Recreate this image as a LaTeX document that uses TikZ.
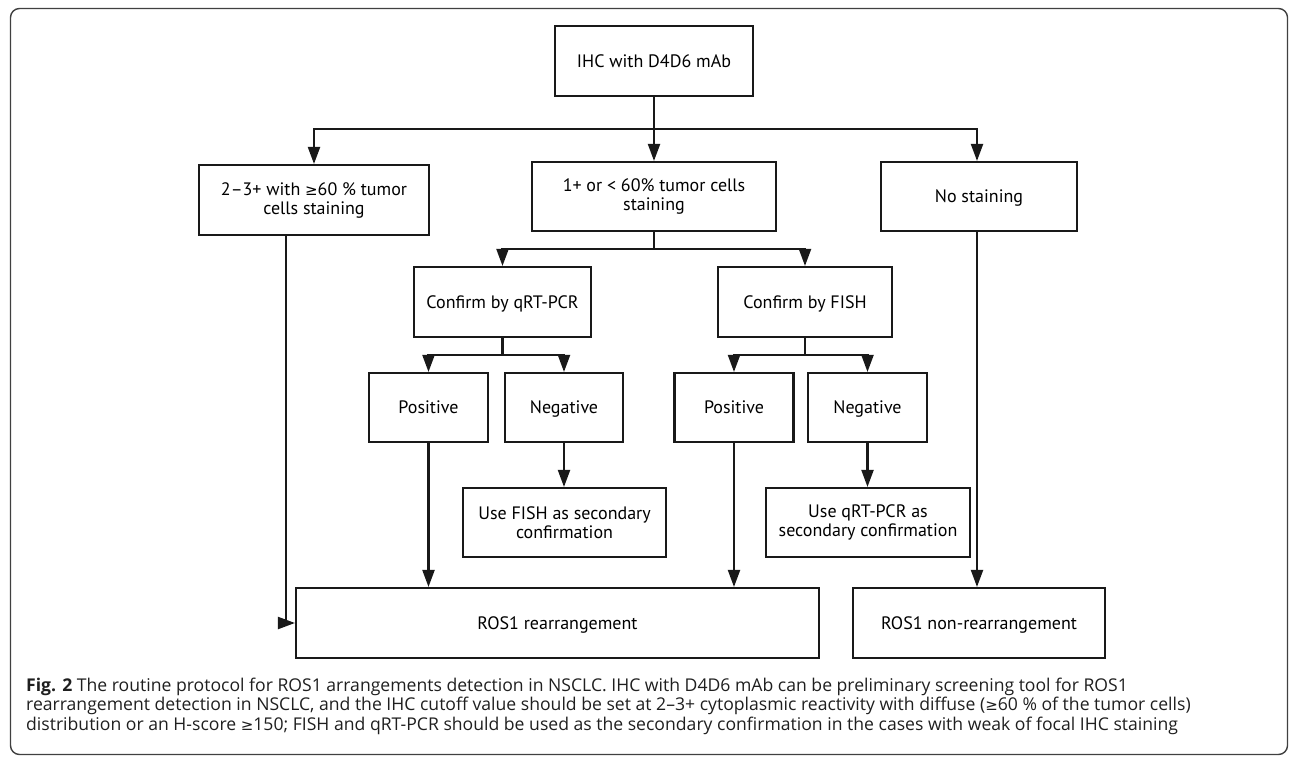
\documentclass[tikz,border=0pt]{standalone}
\usepackage{fontspec}
\setmainfont{PT Sans}
\newfontfamily\capfont{Open Sans}
\newfontfamily\symfont{DejaVu Sans}
\usetikzlibrary{arrows.meta,calc}
\begin{document}
\begin{tikzpicture}[x=1pt,y=-1pt,
 box/.style={draw=black!90,line width=2.1pt,align=center,inner sep=0pt,font=\fontsize{18}{19}\selectfont},
 one/.style={text height=12.6pt,text depth=0pt},
 arr/.style={draw=black!90,line width=2.1pt,-{Triangle[length=17pt,width=12pt]}},
 ln/.style={draw=black!90,line width=2.1pt},
 captext/.style={anchor=base west,inner sep=0pt,text=black!88,font=\capfont\fontsize{17.6}{18}\selectfont}]
\useasboundingbox (0,0) rectangle (1290,757);
\draw[draw=black!75,line width=1.4pt,rounded corners=9pt] (10.5,8.5) rectangle (1287.5,754.5);

\node[box,one,minimum width=198pt,minimum height=70pt] (ihc) at (654,61) {IHC with D4D6 mAb};
\node[box,minimum width=230pt,minimum height=70pt] (a) at (314,200) {2–3+ with {\symfont\fontsize{15}{19}\selectfont ≥}60 \% tumor\\cells staining};
\node[box,minimum width=244pt,minimum height=69pt] (b) at (654,196.5) {1+ or < 60\% tumor cells\\staining};
\node[box,one,minimum width=196pt,minimum height=69pt] (c) at (979,196.5) {No staining};
\node[box,one,minimum width=177pt,minimum height=70pt] (qrt) at (502.5,302) {Confirm by qRT-PCR};
\node[box,one,minimum width=174pt,minimum height=70pt] (fish) at (805,302) {Confirm by FISH};
\node[box,one,minimum width=119pt,minimum height=69pt] (pos1) at (428.5,407.5) {Positive};
\node[box,one,minimum width=118pt,minimum height=69pt] (neg1) at (564,407.5) {Negative};
\node[box,one,minimum width=119pt,minimum height=69pt] (pos2) at (734,407.5) {Positive};
\node[box,one,minimum width=119pt,minimum height=69pt] (neg2) at (867.5,407.5) {Negative};
\node[box,minimum width=203pt,minimum height=69pt] (usefish) at (564.5,522.5) {Use FISH as secondary\\confirmation};
\node[box,minimum width=204pt,minimum height=69pt] (useqrt) at (868,522.5) {Use qRT-PCR as\\secondary confirmation};
\node[box,one,minimum width=523pt,minimum height=70pt] (ros) at (557.5,623) {ROS1 rearrangement};
\node[box,one,minimum width=252pt,minimum height=70pt] (non) at (979,623) {ROS1 non-rearrangement};

% top level
\draw[arr] (ihc.south) -- (ihc.south |- b.north);
\coordinate (t) at ($(ihc.south)!0.5!(ihc.south |- b.north)$);
\draw[arr] (t) -| (a.north);
\draw[arr] (t) -| ([xshift=-2pt]c.north);
% middle split
\coordinate (m) at ($(b.south)!0.5!(b.south |- qrt.north)$);
\draw[ln] (b.south) -- (m);
\draw[arr] (m) -| (qrt.north);
\draw[arr] (m) -| (fish.north);
% qrt split
\coordinate (q) at ($(qrt.south)!0.5!(qrt.south |- pos1.north)$);
\draw[ln] (qrt.south) -- (q);
\draw[arr] (q) -| (pos1.north);
\draw[arr] (q) -| (neg1.north);
% fish split
\coordinate (f) at ($(fish.south)!0.5!(fish.south |- pos2.north)$);
\draw[ln] (fish.south) -- (f);
\draw[arr] (f) -| (pos2.north);
\draw[arr] (f) -| (neg2.north);
% negatives
\draw[arr] (neg1.south) -- (neg1.south |- usefish.north);
\draw[arr] (neg2.south) -- (neg2.south |- useqrt.north);
% positives
\draw[arr] (pos1.south) -- (pos1.south |- ros.north);
\draw[arr] (pos2.south) -- (pos2.south |- ros.north);
\draw[arr] ([xshift=-2pt]c.south) -- ([xshift=-2pt]c.south |- non.north);
% left
\draw[arr] ([xshift=-28pt]a.south) |- (ros.west);

% caption
\node[captext] (cap1) at (26,691) {\textbf{Fig. 2} The routine protocol for ROS1 arrangements detection in NSCLC. IHC with D4D6 mAb can be preliminary screening tool for ROS1};
\node[captext] (cap2) at (26,710.5) {rearrangement detection in NSCLC, and the IHC cutoff value should be set at 2–3+ cytoplasmic reactivity with diffuse ({\symfont\fontsize{15}{18}\selectfont ≥}60 \% of the tumor cells)};
\node[captext] (cap3) at (26,730) {distribution or an H-score {\symfont\fontsize{15}{18}\selectfont ≥}150; FISH and qRT-PCR should be used as the secondary confirmation in the cases with weak of focal IHC staining};
\end{tikzpicture}
\end{document}
